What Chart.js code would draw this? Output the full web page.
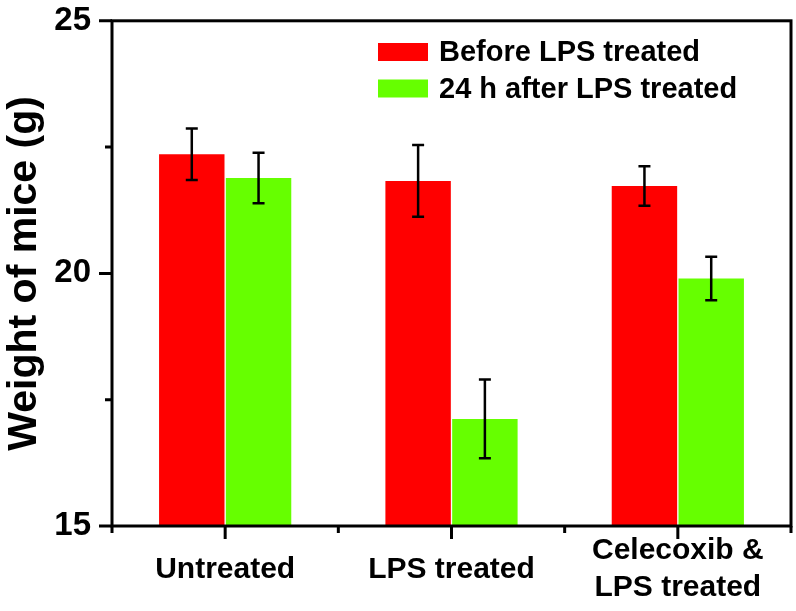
<!DOCTYPE html>
<html>
<head>
<meta charset="utf-8">
<script src="https://cdn.jsdelivr.net/npm/chart.js@4.4.0/dist/chart.umd.min.js"></script>
<style>
  html, body { margin: 0; padding: 0; background: #fff; }
  #wrap { width: 796px; height: 611px; }
</style>
</head>
<body>
<div id="wrap"><canvas id="myChart" width="796" height="611"></canvas></div>
<script>
// values
const groups = ["Untreated", "LPS treated", ["Celecoxib &", "LPS treated"]];
const beforeWeight = [22.36, 21.83, 21.73];
const beforeErr = [0.51, 0.71, 0.39];
const afterWeight = [21.89, 17.12, 19.9];
const afterErr = [0.5, 0.78, 0.43];
const yMajorTicks = [15, 20, 25];
const yMinorTicks = [17.5, 22.5];

const FONT = "'Liberation Sans', Arial, sans-serif";

// error bars on top of each bar
const errorBars = {
  id: "errorBars",
  afterDatasetsDraw(chart) {
    const ctx = chart.ctx;
    const y = chart.scales.y;
    ctx.save();
    ctx.strokeStyle = "#000";
    ctx.lineWidth = 2.5;
    chart.data.datasets.forEach((ds, i) => {
      chart.getDatasetMeta(i).data.forEach((bar, j) => {
        const top = y.getPixelForValue(ds.data[j] + ds.errors[j]);
        const bot = y.getPixelForValue(ds.data[j] - ds.errors[j]);
        ctx.beginPath();
        ctx.moveTo(bar.x, top);
        ctx.lineTo(bar.x, bot);
        ctx.moveTo(bar.x - 6, top);
        ctx.lineTo(bar.x + 6, top);
        ctx.moveTo(bar.x - 6, bot);
        ctx.lineTo(bar.x + 6, bot);
        ctx.stroke();
      });
    });
    ctx.restore();
  },
};

// box frame plus outward ticks (major/minor)
const frame = {
  id: "frame",
  afterDraw(chart) {
    const ctx = chart.ctx;
    const a = chart.chartArea;
    const x = chart.scales.x;
    const y = chart.scales.y;
    ctx.save();
    ctx.strokeStyle = "#000";
    ctx.lineWidth = 3;
    ctx.strokeRect(a.left, a.top, a.right - a.left, a.bottom - a.top);
    ctx.beginPath();
    yMajorTicks.forEach((v) => {
      const p = y.getPixelForValue(v);
      ctx.moveTo(a.left - 13, p);
      ctx.lineTo(a.left, p);
    });
    yMinorTicks.forEach((v) => {
      const p = y.getPixelForValue(v);
      ctx.moveTo(a.left - 7, p);
      ctx.lineTo(a.left, p);
    });
    groups.forEach((g, i) => {
      const p = x.getPixelForValue(i);
      ctx.moveTo(p, a.bottom);
      ctx.lineTo(p, a.bottom + 13);
    });
    for (let i = 0; i <= groups.length; i++) {
      const p = x.getPixelForValue(i - 0.5);
      ctx.moveTo(p, a.bottom);
      ctx.lineTo(p, a.bottom + 7);
    }
    ctx.stroke();
    ctx.restore();
  },
};

// legend inside the plot, top right
const boxLegend = {
  id: "boxLegend",
  afterDraw(chart) {
    const ctx = chart.ctx;
    ctx.save();
    ctx.font = "bold 29px " + FONT;
    ctx.textBaseline = "middle";
    chart.data.datasets.forEach((ds, i) => {
      const cy = 52 + i * 36.5;
      ctx.fillStyle = ds.backgroundColor;
      ctx.fillRect(378, cy - 9, 50, 18);
      ctx.fillStyle = "#000";
      ctx.fillText(ds.label, 439, cy + 1);
    });
    ctx.restore();
  },
};

const myChart = new Chart(document.getElementById("myChart").getContext("2d"), {
  type: "bar",
  data: {
    labels: groups,
    datasets: [
      {
        label: "Before LPS treated",
        data: beforeWeight,
        errors: beforeErr,
        backgroundColor: "#ff0000",
        categoryPercentage: 0.59,
        barPercentage: 0.98,
      },
      {
        label: "24 h after LPS treated",
        data: afterWeight,
        errors: afterErr,
        backgroundColor: "#66ff00",
        categoryPercentage: 0.59,
        barPercentage: 0.98,
      },
    ],
  },
  options: {
    responsive: false,
    animation: false,
    devicePixelRatio: 1,
    layout: { padding: { top: 0, right: 5, left: 0, bottom: 0 } },
    plugins: {
      legend: { display: false },
      tooltip: { enabled: false },
    },
    scales: {
      x: {
        grid: { display: false, drawTicks: false },
        border: { display: false },
        ticks: {
          color: "#000",
          padding: 25,
          crossAlign: "center",
          font: { family: FONT, size: 30, weight: "bold", lineHeight: 1.23 },
        },
        afterFit(scale) {
          scale.height = 85;
        },
      },
      y: {
        min: 15,
        max: 25,
        grid: { drawOnChartArea: false, color: "rgba(0,0,0,0)", tickLength: 20 },
        border: { display: false },
        ticks: {
          stepSize: 5,
          color: "#000",
          padding: 1,
          font: { family: FONT, size: 33, weight: "bold" },
        },
        title: {
          display: true,
          text: "Weight of mice (g)",
          color: "#000",
          padding: { top: 0, bottom: 0 },
          font: { family: FONT, size: 41, weight: "bold" },
        },
        afterFit(scale) {
          scale.width = 112;
        },
      },
    },
  },
  plugins: [errorBars, frame, boxLegend],
});
</script>
</body>
</html>
